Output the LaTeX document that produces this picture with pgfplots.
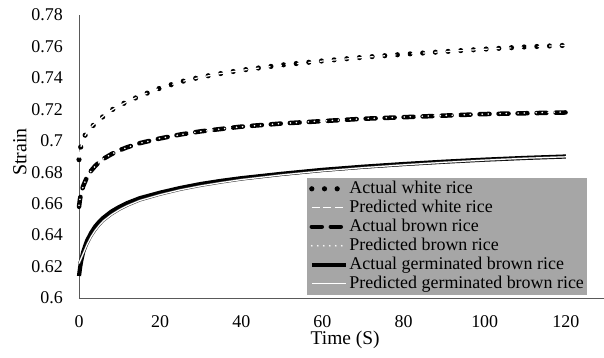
\documentclass[border=0pt]{standalone}
\usepackage{pgfplots}
\pgfplotsset{compat=1.18}
\usepackage{pgfplotstable}
\usepackage{fontspec}
\setmainfont{Liberation Serif}
\definecolor{leggray}{HTML}{A6A6A6}
\definecolor{axgray}{HTML}{595959}

\pgfplotstableread{
t v
0 0.688
0.25 0.694
0.5 0.697
1 0.7005
1.5 0.7035
2 0.7055
3 0.7085
4 0.711
5 0.7135
6 0.7155
8 0.7195
10 0.7225
12 0.725
15 0.7285
20 0.7335
25 0.7375
30 0.7405
35 0.7428
40 0.7449
50 0.7482
60 0.7508
70 0.7531
80 0.7550
90 0.7567
100 0.7583
110 0.7597
120 0.7607
}\whiteact

\pgfplotstableread{
t v
0 0.689
0.25 0.6935
0.5 0.6965
1 0.7003
1.5 0.7033
2 0.7055
3 0.7087
4 0.7112
5 0.7135
6 0.7156
8 0.7194
10 0.7224
12 0.7250
15 0.7285
20 0.7334
25 0.7375
30 0.7404
35 0.7428
40 0.7448
50 0.7481
60 0.7507
70 0.7530
80 0.7550
90 0.7567
100 0.7582
110 0.7596
120 0.7607
}\whitepred

\pgfplotstableread{
t v
0 0.658
0.25 0.663
0.5 0.666
1 0.671
1.5 0.674
2 0.677
3 0.681
4 0.684
5 0.6865
6 0.6885
8 0.6915
10 0.694
12 0.696
15 0.6985
20 0.7015
25 0.704
30 0.706
35 0.7075
40 0.709
50 0.711
60 0.7125
70 0.714
80 0.715
90 0.716
100 0.717
110 0.7175
120 0.718
}\brownact

\pgfplotstableread{
t v
0 0.659
0.25 0.6632
0.5 0.6662
1 0.6708
1.5 0.6741
2 0.6768
3 0.6809
4 0.6839
5 0.6864
6 0.6885
8 0.6915
10 0.6939
12 0.6959
15 0.6984
20 0.7015
25 0.7039
30 0.7059
35 0.7075
40 0.7089
50 0.7110
60 0.7126
70 0.7140
80 0.7151
90 0.7161
100 0.7170
110 0.7177
120 0.7183
}\brownpred

\pgfplotstableread{
t v
0 0.614
0.25 0.619
0.5 0.623
1 0.629
1.5 0.633
2 0.6365
3 0.6415
4 0.6455
5 0.6485
6 0.651
8 0.655
10 0.658
12 0.6605
15 0.6635
20 0.667
25 0.670
30 0.6725
35 0.6745
40 0.6762
50 0.679
60 0.6815
70 0.6835
80 0.6852
90 0.6867
100 0.688
110 0.6891
120 0.690
}\germact

\pgfplotstableread{
t v
0 0.622
0.25 0.6235
0.5 0.625
1 0.628
1.5 0.631
2 0.634
3 0.639
4 0.643
5 0.6462
6 0.649
8 0.653
10 0.6562
12 0.6588
15 0.662
20 0.6657
25 0.6688
30 0.6713
35 0.6734
40 0.6753
50 0.6783
60 0.6808
70 0.6829
80 0.6847
90 0.6863
100 0.6877
110 0.6889
120 0.6898
}\germpred

\begin{document}
\begin{tikzpicture}
\begin{axis}[
  at={(0,0)}, anchor=south west,
  scale only axis, width=525bp, height=283bp,
  xmin=0, xmax=129.4, ymin=0.6, ymax=0.78,
  xtick={0,20,...,120},
  ytick={0.6,0.62,...,0.781},
  axis x line=bottom, axis y line=left,
  axis line style={-, draw=axgray, line width=0.9bp},
  major tick length=0pt,
  /pgf/number format/assume math mode=true,
  /pgf/number format/fixed, /pgf/number format/precision=2,
  tick label style={font=\fontsize{18}{20}\selectfont, text=black},
  xticklabel style={anchor=north, inner sep=0pt, yshift=-17bp},
  yticklabel style={anchor=east, inner sep=0pt, xshift=-16bp},
  xlabel={Time (S)}, ylabel={Strain},
  every axis x label/.style={at={(axis description cs:0.507,-0.148)}, anchor=center, font=\fontsize{19.5}{21}\selectfont},
  every axis y label/.style={at={(axis description cs:-0.1124,0.516)}, anchor=center, rotate=90, font=\fontsize{20}{22}\selectfont},
  clip=false,
  legend cell align=left,
  legend style={
    at={(rel axis cs:0.4343,0.0106)}, anchor=south west,
    fill=leggray, draw=none,
    font=\fontsize{18}{19}\selectfont,
    inner xsep=2bp, inner ysep=1.5bp,
    nodes={inner ysep=1bp, inner xsep=1bp, text height=13bp, text depth=4bp},
  },
  legend image code/.code={\draw[#1] (0bp,0bp) -- (34bp,0bp);},
]
\addplot[black, line width=5.2bp, line cap=round, dash pattern=on 0bp off 12.7bp] table[x=t,y=v] {\whiteact};
\addlegendentry{Actual white rice}
\addplot[white, line width=1.2bp, dash pattern=on 8bp off 3.5bp] table[x=t,y=v] {\whitepred};
\addlegendentry{Predicted white rice}
\addplot[black, line width=4.5bp, line cap=round, dash pattern=on 10bp off 9bp] table[x=t,y=v] {\brownact};
\addlegendentry{Actual brown rice}
\addplot[white, line width=1.8bp, line cap=round, dash pattern=on 0bp off 6bp] table[x=t,y=v] {\brownpred};
\addlegendentry{Predicted brown rice}
\addplot[black, line width=4.2bp] table[x=t,y=v] {\germact};
\addlegendentry{Actual germinated brown rice}
\addplot[black!75, line width=2.2bp, forget plot] table[x=t,y=v] {\germpred};
\addplot[white, line width=1.2bp] table[x=t,y=v] {\germpred};
\addlegendentry{Predicted germinated brown rice}
\end{axis}
\pgfresetboundingbox
\useasboundingbox (-79bp,-60bp) rectangle (525bp,298bp);
\end{tikzpicture}
\end{document}
